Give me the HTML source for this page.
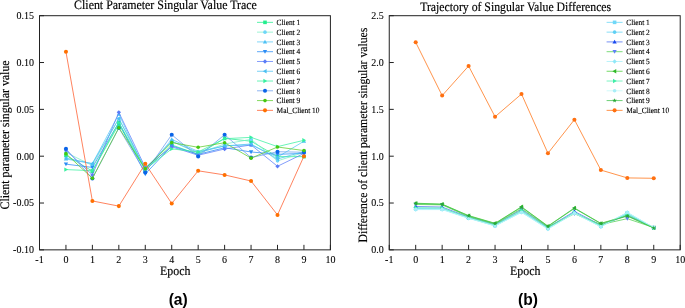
<!DOCTYPE html>
<html><head><meta charset="utf-8"><style>
html,body{margin:0;padding:0;background:#fff;width:685px;height:308px;overflow:hidden}
svg{display:block;will-change:transform}
</style></head><body>
<svg width="685" height="308" viewBox="0 0 685 308">
<style>
.tk{font-family:"Liberation Serif",serif;font-size:10px;fill:#000;stroke:#000;stroke-width:0.08px}
.lg{font-family:"Liberation Serif",serif;font-size:7.4px;fill:#000;stroke:#000;stroke-width:0.12px;text-rendering:geometricPrecision}
.tt{font-family:"Liberation Serif",serif;font-size:11.9px;fill:#000;stroke:#000;stroke-width:0.15px;text-rendering:geometricPrecision}
.lb{font-family:"Liberation Sans",sans-serif;font-size:15.6px;font-weight:bold;fill:#000}
</style>
<rect width="685" height="308" fill="#fff"/>
<text transform="translate(74.10,8.80) scale(1.0,1.09)" class="tt">Client Parameter Singular Value Trace</text>
<text transform="translate(420.20,11.00) scale(0.988,1.09)" class="tt">Trajectory of Singular Value Differences</text>
<text transform="translate(160.10,274.60) scale(1.0,1.09)" class="tt">Epoch</text>
<text transform="translate(510.10,274.60) scale(1.0,1.09)" class="tt">Epoch</text>
<text transform="translate(9.30,209.40) rotate(-90) scale(1.0,1.09)" class="tt" style="font-size:11.85px">Client parameter singular value</text>
<text transform="translate(366.60,242.50) rotate(-90) scale(1.0,1.09)" class="tt" style="font-size:11.72px">Difference of client parameter singular values</text>
<text x="178.2" y="304.8" text-anchor="middle" class="lb">(a)</text>
<text x="527.9" y="304.8" text-anchor="middle" class="lb">(b)</text>
<g>
<path d="M65.95,155.25L92.39,171.18L118.84,124.35L145.28,170.24L171.73,144.95L198.17,154.32L224.62,138.39L251.06,141.20L277.51,156.66L303.95,156.66" fill="none" stroke="#22EE8E" stroke-width="0.75"/>
<rect x="64.15" y="153.45" width="3.60" height="3.60" fill="#22EE8E"/>
<rect x="90.59" y="169.38" width="3.60" height="3.60" fill="#22EE8E"/>
<rect x="117.04" y="122.55" width="3.60" height="3.60" fill="#22EE8E"/>
<rect x="143.48" y="168.44" width="3.60" height="3.60" fill="#22EE8E"/>
<rect x="169.93" y="143.15" width="3.60" height="3.60" fill="#22EE8E"/>
<rect x="196.37" y="152.52" width="3.60" height="3.60" fill="#22EE8E"/>
<rect x="222.82" y="136.59" width="3.60" height="3.60" fill="#22EE8E"/>
<rect x="249.26" y="139.40" width="3.60" height="3.60" fill="#22EE8E"/>
<rect x="275.71" y="154.86" width="3.60" height="3.60" fill="#22EE8E"/>
<rect x="302.15" y="154.86" width="3.60" height="3.60" fill="#22EE8E"/>
<path d="M65.95,152.44L92.39,165.56L118.84,118.73L145.28,169.30L171.73,141.20L198.17,153.38L224.62,144.01L251.06,139.33L277.51,160.87L303.95,152.44" fill="none" stroke="#7DEFC5" stroke-width="0.75"/>
<circle cx="65.95" cy="152.44" r="1.80" fill="#6ED6F8"/>
<circle cx="92.39" cy="165.56" r="1.80" fill="#6ED6F8"/>
<circle cx="118.84" cy="118.73" r="1.80" fill="#6ED6F8"/>
<circle cx="145.28" cy="169.30" r="1.80" fill="#6ED6F8"/>
<circle cx="171.73" cy="141.20" r="1.80" fill="#6ED6F8"/>
<circle cx="198.17" cy="153.38" r="1.80" fill="#6ED6F8"/>
<circle cx="224.62" cy="144.01" r="1.80" fill="#6ED6F8"/>
<circle cx="251.06" cy="139.33" r="1.80" fill="#6ED6F8"/>
<circle cx="277.51" cy="160.87" r="1.80" fill="#6ED6F8"/>
<circle cx="303.95" cy="152.44" r="1.80" fill="#6ED6F8"/>
<path d="M65.95,159.00L92.39,163.68L118.84,114.04L145.28,171.18L171.73,139.33L198.17,151.51L224.62,145.89L251.06,144.95L277.51,157.13L303.95,141.20" fill="none" stroke="#5AC8F5" stroke-width="0.75"/>
<path d="M65.95,156.84L68.11,160.62L63.79,160.62Z" fill="#4EC2F5"/>
<path d="M92.39,161.52L94.55,165.30L90.23,165.30Z" fill="#4EC2F5"/>
<path d="M118.84,111.88L121.00,115.66L116.68,115.66Z" fill="#4EC2F5"/>
<path d="M145.28,169.02L147.44,172.80L143.12,172.80Z" fill="#4EC2F5"/>
<path d="M171.73,137.17L173.89,140.95L169.57,140.95Z" fill="#4EC2F5"/>
<path d="M198.17,149.35L200.33,153.13L196.01,153.13Z" fill="#4EC2F5"/>
<path d="M224.62,143.73L226.78,147.51L222.46,147.51Z" fill="#4EC2F5"/>
<path d="M251.06,142.79L253.22,146.57L248.90,146.57Z" fill="#4EC2F5"/>
<path d="M277.51,154.97L279.67,158.75L275.35,158.75Z" fill="#4EC2F5"/>
<path d="M303.95,139.04L306.11,142.82L301.79,142.82Z" fill="#4EC2F5"/>
<path d="M65.95,164.15L92.39,167.43L118.84,122.47L145.28,173.99L171.73,145.89L198.17,154.32L224.62,147.76L251.06,151.98L277.51,154.32L303.95,153.38" fill="none" stroke="#2A8CF5" stroke-width="0.75"/>
<path d="M65.95,166.31L68.11,162.53L63.79,162.53Z" fill="#2A8CF5"/>
<path d="M92.39,169.59L94.55,165.81L90.23,165.81Z" fill="#2A8CF5"/>
<path d="M118.84,124.63L121.00,120.85L116.68,120.85Z" fill="#2A8CF5"/>
<path d="M145.28,176.15L147.44,172.37L143.12,172.37Z" fill="#2A8CF5"/>
<path d="M171.73,148.05L173.89,144.27L169.57,144.27Z" fill="#2A8CF5"/>
<path d="M198.17,156.48L200.33,152.70L196.01,152.70Z" fill="#2A8CF5"/>
<path d="M224.62,149.92L226.78,146.14L222.46,146.14Z" fill="#2A8CF5"/>
<path d="M251.06,154.14L253.22,150.36L248.90,150.36Z" fill="#2A8CF5"/>
<path d="M277.51,156.48L279.67,152.70L275.35,152.70Z" fill="#2A8CF5"/>
<path d="M303.95,155.54L306.11,151.76L301.79,151.76Z" fill="#2A8CF5"/>
<path d="M65.95,150.10L92.39,174.92L118.84,112.36L145.28,167.43L171.73,146.82L198.17,155.25L224.62,148.98L251.06,144.95L277.51,166.31L303.95,153.38" fill="none" stroke="#5A7CF8" stroke-width="0.75"/>
<path d="M65.95,147.94L68.11,150.10L65.95,152.26L63.79,150.10Z" fill="#5A7CF8"/>
<path d="M92.39,172.76L94.55,174.92L92.39,177.08L90.23,174.92Z" fill="#5A7CF8"/>
<path d="M118.84,110.20L121.00,112.36L118.84,114.52L116.68,112.36Z" fill="#5A7CF8"/>
<path d="M145.28,165.27L147.44,167.43L145.28,169.59L143.12,167.43Z" fill="#5A7CF8"/>
<path d="M171.73,144.66L173.89,146.82L171.73,148.98L169.57,146.82Z" fill="#5A7CF8"/>
<path d="M198.17,153.09L200.33,155.25L198.17,157.41L196.01,155.25Z" fill="#5A7CF8"/>
<path d="M224.62,146.82L226.78,148.98L224.62,151.14L222.46,148.98Z" fill="#5A7CF8"/>
<path d="M251.06,142.79L253.22,144.95L251.06,147.11L248.90,144.95Z" fill="#5A7CF8"/>
<path d="M277.51,164.15L279.67,166.31L277.51,168.47L275.35,166.31Z" fill="#5A7CF8"/>
<path d="M303.95,151.22L306.11,153.38L303.95,155.54L301.79,153.38Z" fill="#5A7CF8"/>
<path d="M65.95,158.06L92.39,163.68L118.84,118.73L145.28,168.37L171.73,141.20L198.17,152.44L224.62,145.89L251.06,144.01L277.51,159.00L303.95,151.51" fill="none" stroke="#4CC0F2" stroke-width="0.75"/>
<path d="M63.79,158.06L67.57,155.90L67.57,160.22Z" fill="#4CC0F2"/>
<path d="M90.23,163.68L94.01,161.52L94.01,165.84Z" fill="#4CC0F2"/>
<path d="M116.68,118.73L120.46,116.57L120.46,120.89Z" fill="#4CC0F2"/>
<path d="M143.12,168.37L146.90,166.21L146.90,170.53Z" fill="#4CC0F2"/>
<path d="M169.57,141.20L173.35,139.04L173.35,143.36Z" fill="#4CC0F2"/>
<path d="M196.01,152.44L199.79,150.28L199.79,154.60Z" fill="#4CC0F2"/>
<path d="M222.46,145.89L226.24,143.73L226.24,148.05Z" fill="#4CC0F2"/>
<path d="M248.90,144.01L252.68,141.85L252.68,146.17Z" fill="#4CC0F2"/>
<path d="M275.35,159.00L279.13,156.84L279.13,161.16Z" fill="#4CC0F2"/>
<path d="M301.79,151.51L305.57,149.35L305.57,153.67Z" fill="#4CC0F2"/>
<path d="M65.95,169.58L92.39,170.71L118.84,122.47L145.28,169.30L171.73,148.88L198.17,151.98L224.62,138.68L251.06,137.36L277.51,146.64L303.95,140.27" fill="none" stroke="#38F0A0" stroke-width="0.75"/>
<path d="M68.11,169.58L64.33,167.42L64.33,171.74Z" fill="#38F0A0"/>
<path d="M94.55,170.71L90.77,168.55L90.77,172.87Z" fill="#38F0A0"/>
<path d="M121.00,122.47L117.22,120.31L117.22,124.63Z" fill="#38F0A0"/>
<path d="M147.44,169.30L143.66,167.14L143.66,171.46Z" fill="#38F0A0"/>
<path d="M173.89,148.88L170.11,146.72L170.11,151.04Z" fill="#38F0A0"/>
<path d="M200.33,151.98L196.55,149.82L196.55,154.14Z" fill="#38F0A0"/>
<path d="M226.78,138.68L223.00,136.52L223.00,140.84Z" fill="#38F0A0"/>
<path d="M253.22,137.36L249.44,135.20L249.44,139.52Z" fill="#38F0A0"/>
<path d="M279.67,146.64L275.89,144.48L275.89,148.80Z" fill="#38F0A0"/>
<path d="M306.11,140.27L302.33,138.11L302.33,142.43Z" fill="#38F0A0"/>
<path d="M65.95,148.70L92.39,178.48L118.84,128.09L145.28,172.58L171.73,134.74L198.17,156.47L224.62,134.74L251.06,157.59L277.51,151.69L303.95,152.26" fill="none" stroke="#6A9EEE" stroke-width="0.75"/>
<circle cx="65.95" cy="148.70" r="2.03" fill="#0A64E8"/>
<circle cx="92.39" cy="178.48" r="2.03" fill="#0A64E8"/>
<circle cx="118.84" cy="128.09" r="2.03" fill="#0A64E8"/>
<circle cx="145.28" cy="172.58" r="2.03" fill="#0A64E8"/>
<circle cx="171.73" cy="134.74" r="2.03" fill="#0A64E8"/>
<circle cx="198.17" cy="156.47" r="2.03" fill="#0A64E8"/>
<circle cx="224.62" cy="134.74" r="2.03" fill="#0A64E8"/>
<circle cx="251.06" cy="157.59" r="2.03" fill="#0A64E8"/>
<circle cx="277.51" cy="151.69" r="2.03" fill="#0A64E8"/>
<circle cx="303.95" cy="152.26" r="2.03" fill="#0A64E8"/>
<path d="M65.95,153.66L92.39,178.29L118.84,127.72L145.28,168.74L171.73,142.61L198.17,147.29L224.62,142.70L251.06,158.16L277.51,147.01L303.95,150.57" fill="none" stroke="#5CCC2A" stroke-width="0.75"/>
<circle cx="65.95" cy="153.66" r="1.80" fill="#44C810"/>
<circle cx="92.39" cy="178.29" r="1.80" fill="#44C810"/>
<circle cx="118.84" cy="127.72" r="1.80" fill="#44C810"/>
<circle cx="145.28" cy="168.74" r="1.80" fill="#44C810"/>
<circle cx="171.73" cy="142.61" r="1.80" fill="#44C810"/>
<circle cx="198.17" cy="147.29" r="1.80" fill="#44C810"/>
<circle cx="224.62" cy="142.70" r="1.80" fill="#44C810"/>
<circle cx="251.06" cy="158.16" r="1.80" fill="#44C810"/>
<circle cx="277.51" cy="147.01" r="1.80" fill="#44C810"/>
<circle cx="303.95" cy="150.57" r="1.80" fill="#44C810"/>
<path d="M65.95,51.76L92.39,200.96L118.84,206.11L145.28,163.78L171.73,203.49L198.17,170.80L224.62,174.92L251.06,181.01L277.51,214.91L303.95,156.19" fill="none" stroke="#FF5A2A" stroke-width="0.75"/>
<circle cx="65.95" cy="51.76" r="2.03" fill="#FF7000"/>
<circle cx="92.39" cy="200.96" r="2.03" fill="#FF7000"/>
<circle cx="118.84" cy="206.11" r="2.03" fill="#FF7000"/>
<circle cx="145.28" cy="163.78" r="2.03" fill="#FF7000"/>
<circle cx="171.73" cy="203.49" r="2.03" fill="#FF7000"/>
<circle cx="198.17" cy="170.80" r="2.03" fill="#FF7000"/>
<circle cx="224.62" cy="174.92" r="2.03" fill="#FF7000"/>
<circle cx="251.06" cy="181.01" r="2.03" fill="#FF7000"/>
<circle cx="277.51" cy="214.91" r="2.03" fill="#FF7000"/>
<circle cx="303.95" cy="156.19" r="2.03" fill="#FF7000"/>
</g>
<g>
<path d="M415.70,208.64L442.15,208.92L468.60,217.82L495.05,225.50L521.50,211.45L547.95,228.31L574.40,212.85L600.85,226.25L627.30,212.85L653.75,227.75" fill="none" stroke="#60D4F4" stroke-width="0.75"/>
<rect x="413.90" y="206.84" width="3.60" height="3.60" fill="#70D8F8"/>
<rect x="440.35" y="207.12" width="3.60" height="3.60" fill="#70D8F8"/>
<rect x="466.80" y="216.02" width="3.60" height="3.60" fill="#70D8F8"/>
<rect x="493.25" y="223.70" width="3.60" height="3.60" fill="#70D8F8"/>
<rect x="519.70" y="209.65" width="3.60" height="3.60" fill="#70D8F8"/>
<rect x="546.15" y="226.51" width="3.60" height="3.60" fill="#70D8F8"/>
<rect x="572.60" y="211.05" width="3.60" height="3.60" fill="#70D8F8"/>
<rect x="599.05" y="224.45" width="3.60" height="3.60" fill="#70D8F8"/>
<rect x="625.50" y="211.05" width="3.60" height="3.60" fill="#70D8F8"/>
<rect x="651.95" y="225.95" width="3.60" height="3.60" fill="#70D8F8"/>
<path d="M415.70,208.92L442.15,209.11L468.60,218.01L495.05,225.69L521.50,211.92L547.95,228.50L574.40,213.04L600.85,226.44L627.30,213.32L653.75,227.93" fill="none" stroke="#60D4F4" stroke-width="0.75"/>
<circle cx="415.70" cy="208.92" r="1.80" fill="#60D0F4"/>
<circle cx="442.15" cy="209.11" r="1.80" fill="#60D0F4"/>
<circle cx="468.60" cy="218.01" r="1.80" fill="#60D0F4"/>
<circle cx="495.05" cy="225.69" r="1.80" fill="#60D0F4"/>
<circle cx="521.50" cy="211.92" r="1.80" fill="#60D0F4"/>
<circle cx="547.95" cy="228.50" r="1.80" fill="#60D0F4"/>
<circle cx="574.40" cy="213.04" r="1.80" fill="#60D0F4"/>
<circle cx="600.85" cy="226.44" r="1.80" fill="#60D0F4"/>
<circle cx="627.30" cy="213.32" r="1.80" fill="#60D0F4"/>
<circle cx="653.75" cy="227.93" r="1.80" fill="#60D0F4"/>
<path d="M415.70,206.49L442.15,207.05L468.60,217.07L495.05,224.56L521.50,209.58L547.95,227.37L574.40,211.45L600.85,225.03L627.30,215.20L653.75,227.37" fill="none" stroke="#4A6CF0" stroke-width="0.75"/>
<path d="M415.70,204.33L417.86,208.11L413.54,208.11Z" fill="#1848F0"/>
<path d="M442.15,204.89L444.31,208.67L439.99,208.67Z" fill="#1848F0"/>
<path d="M468.60,214.91L470.76,218.69L466.44,218.69Z" fill="#1848F0"/>
<path d="M495.05,222.40L497.21,226.18L492.89,226.18Z" fill="#1848F0"/>
<path d="M521.50,207.42L523.66,211.20L519.34,211.20Z" fill="#1848F0"/>
<path d="M547.95,225.21L550.11,228.99L545.79,228.99Z" fill="#1848F0"/>
<path d="M574.40,209.29L576.56,213.07L572.24,213.07Z" fill="#1848F0"/>
<path d="M600.85,222.87L603.01,226.65L598.69,226.65Z" fill="#1848F0"/>
<path d="M627.30,213.04L629.46,216.82L625.14,216.82Z" fill="#1848F0"/>
<path d="M653.75,225.21L655.91,228.99L651.59,228.99Z" fill="#1848F0"/>
<path d="M415.70,204.42L442.15,204.89L468.60,216.60L495.05,224.09L521.50,208.64L547.95,226.90L574.40,213.79L600.85,224.56L627.30,218.66L653.75,227.56" fill="none" stroke="#50D050" stroke-width="0.75"/>
<path d="M415.70,206.58L417.86,202.80L413.54,202.80Z" fill="#6080F8"/>
<path d="M442.15,207.05L444.31,203.27L439.99,203.27Z" fill="#6080F8"/>
<path d="M468.60,218.76L470.76,214.98L466.44,214.98Z" fill="#6080F8"/>
<path d="M495.05,226.25L497.21,222.47L492.89,222.47Z" fill="#6080F8"/>
<path d="M521.50,210.80L523.66,207.02L519.34,207.02Z" fill="#6080F8"/>
<path d="M547.95,229.06L550.11,225.28L545.79,225.28Z" fill="#6080F8"/>
<path d="M574.40,215.95L576.56,212.17L572.24,212.17Z" fill="#6080F8"/>
<path d="M600.85,226.72L603.01,222.94L598.69,222.94Z" fill="#6080F8"/>
<path d="M627.30,220.82L629.46,217.04L625.14,217.04Z" fill="#6080F8"/>
<path d="M653.75,229.72L655.91,225.94L651.59,225.94Z" fill="#6080F8"/>
<path d="M415.70,209.58L442.15,209.58L468.60,218.29L495.05,225.97L521.50,212.39L547.95,229.06L574.40,213.32L600.85,226.72L627.30,212.39L653.75,227.56" fill="none" stroke="#A0EEF8" stroke-width="0.75"/>
<path d="M415.70,207.42L417.86,209.58L415.70,211.74L413.54,209.58Z" fill="#90E8F8"/>
<path d="M442.15,207.42L444.31,209.58L442.15,211.74L439.99,209.58Z" fill="#90E8F8"/>
<path d="M468.60,216.13L470.76,218.29L468.60,220.45L466.44,218.29Z" fill="#90E8F8"/>
<path d="M495.05,223.81L497.21,225.97L495.05,228.13L492.89,225.97Z" fill="#90E8F8"/>
<path d="M521.50,210.23L523.66,212.39L521.50,214.55L519.34,212.39Z" fill="#90E8F8"/>
<path d="M547.95,226.90L550.11,229.06L547.95,231.22L545.79,229.06Z" fill="#90E8F8"/>
<path d="M574.40,211.16L576.56,213.32L574.40,215.48L572.24,213.32Z" fill="#90E8F8"/>
<path d="M600.85,224.56L603.01,226.72L600.85,228.88L598.69,226.72Z" fill="#90E8F8"/>
<path d="M627.30,210.23L629.46,212.39L627.30,214.55L625.14,212.39Z" fill="#90E8F8"/>
<path d="M653.75,225.40L655.91,227.56L653.75,229.72L651.59,227.56Z" fill="#90E8F8"/>
<path d="M415.70,203.21L442.15,204.14L468.60,215.57L495.05,223.25L521.50,206.77L547.95,226.06L574.40,207.98L600.85,223.34L627.30,215.66L653.75,227.75" fill="none" stroke="#44CC33" stroke-width="0.75"/>
<path d="M413.54,203.21L417.32,201.05L417.32,205.37Z" fill="#30B828"/>
<path d="M439.99,204.14L443.77,201.98L443.77,206.30Z" fill="#30B828"/>
<path d="M466.44,215.57L470.22,213.41L470.22,217.73Z" fill="#30B828"/>
<path d="M492.89,223.25L496.67,221.09L496.67,225.41Z" fill="#30B828"/>
<path d="M519.34,206.77L523.12,204.61L523.12,208.93Z" fill="#30B828"/>
<path d="M545.79,226.06L549.57,223.90L549.57,228.22Z" fill="#30B828"/>
<path d="M572.24,207.98L576.02,205.82L576.02,210.14Z" fill="#30B828"/>
<path d="M598.69,223.34L602.47,221.18L602.47,225.50Z" fill="#30B828"/>
<path d="M625.14,215.66L628.92,213.50L628.92,217.82Z" fill="#30B828"/>
<path d="M651.59,227.75L655.37,225.59L655.37,229.91Z" fill="#30B828"/>
<path d="M415.70,207.70L442.15,207.98L468.60,217.54L495.05,225.03L521.50,210.51L547.95,227.84L574.40,212.39L600.85,225.69L627.30,214.26L653.75,227.75" fill="none" stroke="#50F0B0" stroke-width="0.75"/>
<path d="M417.86,207.70L414.08,205.54L414.08,209.86Z" fill="#40EEA8"/>
<path d="M444.31,207.98L440.53,205.82L440.53,210.14Z" fill="#40EEA8"/>
<path d="M470.76,217.54L466.98,215.38L466.98,219.70Z" fill="#40EEA8"/>
<path d="M497.21,225.03L493.43,222.87L493.43,227.19Z" fill="#40EEA8"/>
<path d="M523.66,210.51L519.88,208.35L519.88,212.67Z" fill="#40EEA8"/>
<path d="M550.11,227.84L546.33,225.68L546.33,230.00Z" fill="#40EEA8"/>
<path d="M576.56,212.39L572.78,210.23L572.78,214.55Z" fill="#40EEA8"/>
<path d="M603.01,225.69L599.23,223.53L599.23,227.85Z" fill="#40EEA8"/>
<path d="M629.46,214.26L625.68,212.10L625.68,216.42Z" fill="#40EEA8"/>
<path d="M655.91,227.75L652.13,225.59L652.13,229.91Z" fill="#40EEA8"/>
<path d="M415.70,209.30L442.15,209.39L468.60,218.10L495.05,225.87L521.50,212.20L547.95,228.78L574.40,213.14L600.85,226.62L627.30,212.57L653.75,227.65" fill="none" stroke="#C0F8F8" stroke-width="0.75"/>
<circle cx="415.70" cy="209.30" r="1.80" fill="#A8EEF8"/>
<circle cx="442.15" cy="209.39" r="1.80" fill="#A8EEF8"/>
<circle cx="468.60" cy="218.10" r="1.80" fill="#A8EEF8"/>
<circle cx="495.05" cy="225.87" r="1.80" fill="#A8EEF8"/>
<circle cx="521.50" cy="212.20" r="1.80" fill="#A8EEF8"/>
<circle cx="547.95" cy="228.78" r="1.80" fill="#A8EEF8"/>
<circle cx="574.40" cy="213.14" r="1.80" fill="#A8EEF8"/>
<circle cx="600.85" cy="226.62" r="1.80" fill="#A8EEF8"/>
<circle cx="627.30" cy="212.57" r="1.80" fill="#A8EEF8"/>
<circle cx="653.75" cy="227.65" r="1.80" fill="#A8EEF8"/>
<path d="M415.70,203.58L442.15,204.33L468.60,215.95L495.05,223.63L521.50,207.23L547.95,226.44L574.40,208.36L600.85,223.63L627.30,216.13L653.75,228.12" fill="none" stroke="#3CC048" stroke-width="0.75"/>
<path d="M415.70,201.24L416.28,202.78L417.93,202.86L416.64,203.89L417.08,205.48L415.70,204.57L414.32,205.48L414.76,203.89L413.47,202.86L415.12,202.78Z" fill="#28A838"/>
<path d="M442.15,201.99L442.73,203.53L444.38,203.61L443.09,204.64L443.53,206.22L442.15,205.32L440.77,206.22L441.21,204.64L439.92,203.61L441.57,203.53Z" fill="#28A838"/>
<path d="M468.60,213.61L469.18,215.14L470.83,215.22L469.54,216.25L469.98,217.84L468.60,216.94L467.22,217.84L467.66,216.25L466.37,215.22L468.02,215.14Z" fill="#28A838"/>
<path d="M495.05,221.29L495.63,222.82L497.28,222.90L495.99,223.93L496.43,225.52L495.05,224.62L493.67,225.52L494.11,223.93L492.82,222.90L494.47,222.82Z" fill="#28A838"/>
<path d="M521.50,204.89L522.08,206.43L523.73,206.51L522.44,207.54L522.88,209.13L521.50,208.22L520.12,209.13L520.56,207.54L519.27,206.51L520.92,206.43Z" fill="#28A838"/>
<path d="M547.95,224.09L548.53,225.63L550.18,225.71L548.89,226.74L549.33,228.33L547.95,227.43L546.57,228.33L547.01,226.74L545.72,225.71L547.37,225.63Z" fill="#28A838"/>
<path d="M574.40,206.02L574.98,207.56L576.63,207.64L575.34,208.66L575.78,210.25L574.40,209.35L573.02,210.25L573.46,208.66L572.17,207.64L573.82,207.56Z" fill="#28A838"/>
<path d="M600.85,221.29L601.43,222.82L603.08,222.90L601.79,223.93L602.23,225.52L600.85,224.62L599.47,225.52L599.91,223.93L598.62,222.90L600.27,222.82Z" fill="#28A838"/>
<path d="M627.30,213.79L627.88,215.33L629.53,215.41L628.24,216.44L628.68,218.03L627.30,217.12L625.92,218.03L626.36,216.44L625.07,215.41L626.72,215.33Z" fill="#28A838"/>
<path d="M653.75,225.78L654.33,227.32L655.98,227.40L654.69,228.43L655.13,230.01L653.75,229.11L652.37,230.01L652.81,228.43L651.52,227.40L653.17,227.32Z" fill="#28A838"/>
<path d="M415.70,42.30L442.15,95.59L468.60,66.00L495.05,116.76L521.50,94.00L547.95,153.29L574.40,119.66L600.85,170.05L627.30,177.92L653.75,178.29" fill="none" stroke="#FF7010" stroke-width="0.75"/>
<circle cx="415.70" cy="42.30" r="2.03" fill="#FF7010"/>
<circle cx="442.15" cy="95.59" r="2.03" fill="#FF7010"/>
<circle cx="468.60" cy="66.00" r="2.03" fill="#FF7010"/>
<circle cx="495.05" cy="116.76" r="2.03" fill="#FF7010"/>
<circle cx="521.50" cy="94.00" r="2.03" fill="#FF7010"/>
<circle cx="547.95" cy="153.29" r="2.03" fill="#FF7010"/>
<circle cx="574.40" cy="119.66" r="2.03" fill="#FF7010"/>
<circle cx="600.85" cy="170.05" r="2.03" fill="#FF7010"/>
<circle cx="627.30" cy="177.92" r="2.03" fill="#FF7010"/>
<circle cx="653.75" cy="178.29" r="2.03" fill="#FF7010"/>
</g>
<rect x="39.5" y="15.7" width="290.90" height="234.15" fill="none" stroke="#222" stroke-width="1"/>
<line x1="39.50" y1="249.85" x2="39.50" y2="244.85" stroke="#222" stroke-width="1"/>
<text transform="translate(39.50,262.60)" text-anchor="middle" class="tk">-1</text>
<line x1="65.95" y1="249.85" x2="65.95" y2="244.85" stroke="#222" stroke-width="1"/>
<text transform="translate(65.95,262.60)" text-anchor="middle" class="tk">0</text>
<line x1="92.39" y1="249.85" x2="92.39" y2="244.85" stroke="#222" stroke-width="1"/>
<text transform="translate(92.39,262.60)" text-anchor="middle" class="tk">1</text>
<line x1="118.84" y1="249.85" x2="118.84" y2="244.85" stroke="#222" stroke-width="1"/>
<text transform="translate(118.84,262.60)" text-anchor="middle" class="tk">2</text>
<line x1="145.28" y1="249.85" x2="145.28" y2="244.85" stroke="#222" stroke-width="1"/>
<text transform="translate(145.28,262.60)" text-anchor="middle" class="tk">3</text>
<line x1="171.73" y1="249.85" x2="171.73" y2="244.85" stroke="#222" stroke-width="1"/>
<text transform="translate(171.73,262.60)" text-anchor="middle" class="tk">4</text>
<line x1="198.17" y1="249.85" x2="198.17" y2="244.85" stroke="#222" stroke-width="1"/>
<text transform="translate(198.17,262.60)" text-anchor="middle" class="tk">5</text>
<line x1="224.62" y1="249.85" x2="224.62" y2="244.85" stroke="#222" stroke-width="1"/>
<text transform="translate(224.62,262.60)" text-anchor="middle" class="tk">6</text>
<line x1="251.06" y1="249.85" x2="251.06" y2="244.85" stroke="#222" stroke-width="1"/>
<text transform="translate(251.06,262.60)" text-anchor="middle" class="tk">7</text>
<line x1="277.51" y1="249.85" x2="277.51" y2="244.85" stroke="#222" stroke-width="1"/>
<text transform="translate(277.51,262.60)" text-anchor="middle" class="tk">8</text>
<line x1="303.95" y1="249.85" x2="303.95" y2="244.85" stroke="#222" stroke-width="1"/>
<text transform="translate(303.95,262.60)" text-anchor="middle" class="tk">9</text>
<line x1="330.40" y1="249.85" x2="330.40" y2="244.85" stroke="#222" stroke-width="1"/>
<text transform="translate(330.40,262.60)" text-anchor="middle" class="tk">10</text>
<line x1="39.5" y1="15.70" x2="44.0" y2="15.70" stroke="#222" stroke-width="1"/>
<text transform="translate(33.90,19.05)" text-anchor="end" class="tk">0.15</text>
<line x1="39.5" y1="62.53" x2="44.0" y2="62.53" stroke="#222" stroke-width="1"/>
<text transform="translate(33.90,65.88)" text-anchor="end" class="tk">0.10</text>
<line x1="39.5" y1="109.36" x2="44.0" y2="109.36" stroke="#222" stroke-width="1"/>
<text transform="translate(33.90,112.71)" text-anchor="end" class="tk">0.05</text>
<line x1="39.5" y1="156.19" x2="44.0" y2="156.19" stroke="#222" stroke-width="1"/>
<text transform="translate(33.90,159.54)" text-anchor="end" class="tk">0.00</text>
<line x1="39.5" y1="203.02" x2="44.0" y2="203.02" stroke="#222" stroke-width="1"/>
<text transform="translate(33.90,206.37)" text-anchor="end" class="tk">-0.05</text>
<line x1="39.5" y1="249.85" x2="44.0" y2="249.85" stroke="#222" stroke-width="1"/>
<text transform="translate(33.90,253.20)" text-anchor="end" class="tk">-0.10</text>
<rect x="389.25" y="15.7" width="290.95" height="234.15" fill="none" stroke="#222" stroke-width="1"/>
<line x1="389.25" y1="249.85" x2="389.25" y2="244.85" stroke="#222" stroke-width="1"/>
<text transform="translate(389.25,262.60)" text-anchor="middle" class="tk">-1</text>
<line x1="415.70" y1="249.85" x2="415.70" y2="244.85" stroke="#222" stroke-width="1"/>
<text transform="translate(415.70,262.60)" text-anchor="middle" class="tk">0</text>
<line x1="442.15" y1="249.85" x2="442.15" y2="244.85" stroke="#222" stroke-width="1"/>
<text transform="translate(442.15,262.60)" text-anchor="middle" class="tk">1</text>
<line x1="468.60" y1="249.85" x2="468.60" y2="244.85" stroke="#222" stroke-width="1"/>
<text transform="translate(468.60,262.60)" text-anchor="middle" class="tk">2</text>
<line x1="495.05" y1="249.85" x2="495.05" y2="244.85" stroke="#222" stroke-width="1"/>
<text transform="translate(495.05,262.60)" text-anchor="middle" class="tk">3</text>
<line x1="521.50" y1="249.85" x2="521.50" y2="244.85" stroke="#222" stroke-width="1"/>
<text transform="translate(521.50,262.60)" text-anchor="middle" class="tk">4</text>
<line x1="547.95" y1="249.85" x2="547.95" y2="244.85" stroke="#222" stroke-width="1"/>
<text transform="translate(547.95,262.60)" text-anchor="middle" class="tk">5</text>
<line x1="574.40" y1="249.85" x2="574.40" y2="244.85" stroke="#222" stroke-width="1"/>
<text transform="translate(574.40,262.60)" text-anchor="middle" class="tk">6</text>
<line x1="600.85" y1="249.85" x2="600.85" y2="244.85" stroke="#222" stroke-width="1"/>
<text transform="translate(600.85,262.60)" text-anchor="middle" class="tk">7</text>
<line x1="627.30" y1="249.85" x2="627.30" y2="244.85" stroke="#222" stroke-width="1"/>
<text transform="translate(627.30,262.60)" text-anchor="middle" class="tk">8</text>
<line x1="653.75" y1="249.85" x2="653.75" y2="244.85" stroke="#222" stroke-width="1"/>
<text transform="translate(653.75,262.60)" text-anchor="middle" class="tk">9</text>
<line x1="680.20" y1="249.85" x2="680.20" y2="244.85" stroke="#222" stroke-width="1"/>
<text transform="translate(680.20,262.60)" text-anchor="middle" class="tk">10</text>
<line x1="389.25" y1="15.70" x2="393.75" y2="15.70" stroke="#222" stroke-width="1"/>
<text transform="translate(383.65,19.05)" text-anchor="end" class="tk">2.5</text>
<line x1="389.25" y1="62.53" x2="393.75" y2="62.53" stroke="#222" stroke-width="1"/>
<text transform="translate(383.65,65.88)" text-anchor="end" class="tk">2.0</text>
<line x1="389.25" y1="109.36" x2="393.75" y2="109.36" stroke="#222" stroke-width="1"/>
<text transform="translate(383.65,112.71)" text-anchor="end" class="tk">1.5</text>
<line x1="389.25" y1="156.19" x2="393.75" y2="156.19" stroke="#222" stroke-width="1"/>
<text transform="translate(383.65,159.54)" text-anchor="end" class="tk">1.0</text>
<line x1="389.25" y1="203.02" x2="393.75" y2="203.02" stroke="#222" stroke-width="1"/>
<text transform="translate(383.65,206.37)" text-anchor="end" class="tk">0.5</text>
<line x1="389.25" y1="249.85" x2="393.75" y2="249.85" stroke="#222" stroke-width="1"/>
<text transform="translate(383.65,253.20)" text-anchor="end" class="tk">0.0</text>
<line x1="257.00" y1="22.35" x2="273.00" y2="22.35" stroke="#22EE8E" stroke-width="0.75"/>
<rect x="263.20" y="20.55" width="3.60" height="3.60" fill="#22EE8E"/>
<text transform="translate(276.60,25.05) scale(1.0,1.08)" class="lg">Client 1</text>
<line x1="257.00" y1="32.13" x2="273.00" y2="32.13" stroke="#7DEFC5" stroke-width="0.75"/>
<circle cx="265.00" cy="32.13" r="1.80" fill="#6ED6F8"/>
<text transform="translate(276.60,34.83) scale(1.0,1.08)" class="lg">Client 2</text>
<line x1="257.00" y1="41.91" x2="273.00" y2="41.91" stroke="#5AC8F5" stroke-width="0.75"/>
<path d="M265.00,39.75L267.16,43.53L262.84,43.53Z" fill="#4EC2F5"/>
<text transform="translate(276.60,44.61) scale(1.0,1.08)" class="lg">Client 3</text>
<line x1="257.00" y1="51.69" x2="273.00" y2="51.69" stroke="#2A8CF5" stroke-width="0.75"/>
<path d="M265.00,53.85L267.16,50.07L262.84,50.07Z" fill="#2A8CF5"/>
<text transform="translate(276.60,54.39) scale(1.0,1.08)" class="lg">Client 4</text>
<line x1="257.00" y1="61.47" x2="273.00" y2="61.47" stroke="#5A7CF8" stroke-width="0.75"/>
<path d="M265.00,59.31L267.16,61.47L265.00,63.63L262.84,61.47Z" fill="#5A7CF8"/>
<text transform="translate(276.60,64.17) scale(1.0,1.08)" class="lg">Client 5</text>
<line x1="257.00" y1="71.25" x2="273.00" y2="71.25" stroke="#4CC0F2" stroke-width="0.75"/>
<path d="M262.84,71.25L266.62,69.09L266.62,73.41Z" fill="#4CC0F2"/>
<text transform="translate(276.60,73.95) scale(1.0,1.08)" class="lg">Client 6</text>
<line x1="257.00" y1="81.03" x2="273.00" y2="81.03" stroke="#38F0A0" stroke-width="0.75"/>
<path d="M267.16,81.03L263.38,78.87L263.38,83.19Z" fill="#38F0A0"/>
<text transform="translate(276.60,83.73) scale(1.0,1.08)" class="lg">Client 7</text>
<line x1="257.00" y1="90.81" x2="273.00" y2="90.81" stroke="#6A9EEE" stroke-width="0.75"/>
<circle cx="265.00" cy="90.81" r="2.03" fill="#0A64E8"/>
<text transform="translate(276.60,93.51) scale(1.0,1.08)" class="lg">Client 8</text>
<line x1="257.00" y1="100.59" x2="273.00" y2="100.59" stroke="#5CCC2A" stroke-width="0.75"/>
<circle cx="265.00" cy="100.59" r="1.80" fill="#44C810"/>
<text transform="translate(276.60,103.29) scale(1.0,1.08)" class="lg">Client 9</text>
<line x1="257.00" y1="110.37" x2="273.00" y2="110.37" stroke="#FF5A2A" stroke-width="0.75"/>
<circle cx="265.00" cy="110.37" r="2.03" fill="#FF7000"/>
<text transform="translate(276.60,113.07) scale(1.0,1.08)" class="lg">Mal_Client 10</text>
<line x1="606.60" y1="22.35" x2="622.60" y2="22.35" stroke="#60D4F4" stroke-width="0.75"/>
<rect x="612.80" y="20.55" width="3.60" height="3.60" fill="#70D8F8"/>
<text transform="translate(626.20,25.05) scale(1.0,1.08)" class="lg">Client 1</text>
<line x1="606.60" y1="32.13" x2="622.60" y2="32.13" stroke="#60D4F4" stroke-width="0.75"/>
<circle cx="614.60" cy="32.13" r="1.80" fill="#60D0F4"/>
<text transform="translate(626.20,34.83) scale(1.0,1.08)" class="lg">Client 2</text>
<line x1="606.60" y1="41.91" x2="622.60" y2="41.91" stroke="#4A6CF0" stroke-width="0.75"/>
<path d="M614.60,39.75L616.76,43.53L612.44,43.53Z" fill="#1848F0"/>
<text transform="translate(626.20,44.61) scale(1.0,1.08)" class="lg">Client 3</text>
<line x1="606.60" y1="51.69" x2="622.60" y2="51.69" stroke="#50D050" stroke-width="0.75"/>
<path d="M614.60,53.85L616.76,50.07L612.44,50.07Z" fill="#6080F8"/>
<text transform="translate(626.20,54.39) scale(1.0,1.08)" class="lg">Client 4</text>
<line x1="606.60" y1="61.47" x2="622.60" y2="61.47" stroke="#A0EEF8" stroke-width="0.75"/>
<path d="M614.60,59.31L616.76,61.47L614.60,63.63L612.44,61.47Z" fill="#90E8F8"/>
<text transform="translate(626.20,64.17) scale(1.0,1.08)" class="lg">Client 5</text>
<line x1="606.60" y1="71.25" x2="622.60" y2="71.25" stroke="#44CC33" stroke-width="0.75"/>
<path d="M612.44,71.25L616.22,69.09L616.22,73.41Z" fill="#30B828"/>
<text transform="translate(626.20,73.95) scale(1.0,1.08)" class="lg">Client 6</text>
<line x1="606.60" y1="81.03" x2="622.60" y2="81.03" stroke="#50F0B0" stroke-width="0.75"/>
<path d="M616.76,81.03L612.98,78.87L612.98,83.19Z" fill="#40EEA8"/>
<text transform="translate(626.20,83.73) scale(1.0,1.08)" class="lg">Client 7</text>
<line x1="606.60" y1="90.81" x2="622.60" y2="90.81" stroke="#C0F8F8" stroke-width="0.75"/>
<circle cx="614.60" cy="90.81" r="1.80" fill="#A8EEF8"/>
<text transform="translate(626.20,93.51) scale(1.0,1.08)" class="lg">Client 8</text>
<line x1="606.60" y1="100.59" x2="622.60" y2="100.59" stroke="#3CC048" stroke-width="0.75"/>
<path d="M614.60,98.25L615.18,99.79L616.83,99.87L615.54,100.90L615.98,102.48L614.60,101.58L613.22,102.48L613.66,100.90L612.37,99.87L614.02,99.79Z" fill="#28A838"/>
<text transform="translate(626.20,103.29) scale(1.0,1.08)" class="lg">Client 9</text>
<line x1="606.60" y1="110.37" x2="622.60" y2="110.37" stroke="#FF7010" stroke-width="0.75"/>
<circle cx="614.60" cy="110.37" r="2.03" fill="#FF7010"/>
<text transform="translate(626.20,113.07) scale(1.0,1.08)" class="lg">Mal_Client 10</text>
</svg>
</body></html>
